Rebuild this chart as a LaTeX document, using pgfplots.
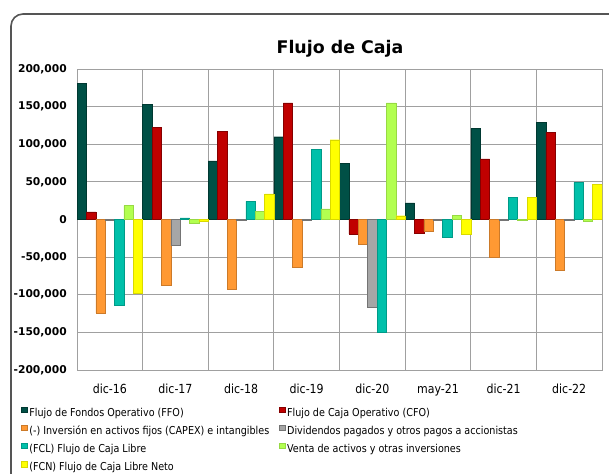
\documentclass[border=0pt]{standalone}
\usepackage{fontspec}
\setmainfont{DejaVu Sans}[FakeStretch=0.88]
\newfontfamily\widefont{DejaVu Sans}
\usepackage{pgfplots}
\pgfplotsset{compat=1.18}
\definecolor{cFFO}{HTML}{005046}
\definecolor{cCFO}{HTML}{C00000}
\definecolor{cCAPEX}{HTML}{FF9933}
\definecolor{cDIV}{HTML}{A6A6A6}
\definecolor{cFCL}{HTML}{00C0AA}
\definecolor{cVEN}{HTML}{B2FF50}
\definecolor{cFCN}{HTML}{FFFF00}
\definecolor{gridc}{HTML}{A0A0A0}
\definecolor{borderc}{HTML}{555555}
\begin{document}
\begin{tikzpicture}[x=1pt,y=1pt]
\useasboundingbox (0,0) rectangle (609,473);
\clip (0,0) rectangle (609,473);
\fill[white] (0,0) rectangle (609,473);
\draw[borderc, line width=1.6pt, rounded corners=12pt] (11,-20) -- (11,459) -- (640,459);
\node[anchor=base, inner sep=0pt] at (340,419.7) {\widefont\bfseries\fontsize{17.4}{20}\selectfont Flujo de Caja};
\begin{axis}[
  at={(77pt,103pt)}, anchor=south west,
  scale only axis, width=525pt, height=301pt,
  xmin=-0.5, xmax=7.5, ymin=-200000, ymax=200000,
  enlargelimits=false,
  scaled y ticks=false,
  ybar=0pt, bar width=9.375pt,
  axis line style={gridc},
  xtick={0,...,7},
  xticklabels={dic-16,dic-17,dic-18,dic-19,dic-20,may-21,dic-21,dic-22},
  minor xtick={-0.5,0.5,...,7.5},
  xminorgrids, ymajorgrids,
  grid style={gridc, line width=0.8pt},
  minor grid style={gridc, line width=0.8pt},
  major tick length=0pt, minor tick length=0pt,
  ytick={-200000,-150000,-100000,-50000,0,50000,100000,150000,200000},
  yticklabels={{-200,000},{-150,000},{-100,000},{-50,000},{0},{50,000},{100,000},{150,000},{200,000}},
  yticklabel style={anchor=east, inner sep=0pt, xshift=-10pt, font=\widefont\bfseries\fontsize{10.7}{12}\selectfont},
  xticklabel style={anchor=base, inner sep=0pt, yshift=-23pt, font=\fontsize{12.5}{14}\selectfont},
  legend columns=2,
  legend cell align=left,
  legend image code/.code={\fill[#1] (0pt,1pt) rectangle (6pt,6.6pt);},
  legend style={draw=none, fill=none, inner sep=0pt, at={(axis description cs:-0.1072,-0.1206)}, anchor=north west,
    font=\fontsize{10.9}{12}\selectfont,
    nodes={inner sep=0pt, text height=8pt, text depth=2.5pt},
    row sep=6.1pt, column sep=2pt,
    /tikz/every even column/.append style={column sep=9.5pt}},
]
\addplot[fill=cFFO, draw=cFFO!70!black, line width=0.4pt] coordinates {(0,181000) (1,153000) (2,78000) (3,110000) (4,75000) (5,22000) (6,121000) (7,129500)};
\addlegendentry{Flujo de Fondos Operativo (FFO)}
\addplot[fill=cCFO, draw=cCFO!70!black, line width=0.4pt] coordinates {(0,10000) (1,122000) (2,117000) (3,155000) (4,-19000) (5,-18000) (6,80500) (7,116000)};
\addlegendentry{Flujo de Caja Operativo (CFO)}
\addplot[fill=cCAPEX, draw=cCAPEX!80!black, line width=0.4pt] coordinates {(0,-124000) (1,-87000) (2,-93000) (3,-64000) (4,-33000) (5,-15500) (6,-50000) (7,-68000)};
\addlegendentry{(-) Inversión en activos fijos (CAPEX) e intangibles}
\addplot[fill=cDIV, draw=cDIV!70!black, line width=0.4pt] coordinates {(0,-800) (1,-34000) (2,-800) (3,-800) (4,-116000) (5,-800) (6,-800) (7,-800)};
\addlegendentry{Dividendos pagados y otros pagos a accionistas}
\addplot[fill=cFCL, draw=cFCL!80!black, line width=0.4pt] coordinates {(0,-114000) (1,2000) (2,24000) (3,93000) (4,-150000) (5,-23500) (6,29500) (7,49500)};
\addlegendentry{(FCL) Flujo de Caja Libre}
\addplot[fill=cVEN, draw=cVEN!85!black, line width=0.4pt] coordinates {(0,18500) (1,-5000) (2,10500) (3,14000) (4,155000) (5,5500) (6,-1000) (7,-2500)};
\addlegendentry{Venta de activos y otras inversiones}
\addplot[fill=cFCN, draw=cFCN!85!black, line width=0.4pt] coordinates {(0,-98500) (1,-2500) (2,34000) (3,106000) (4,5000) (5,-20000) (6,29000) (7,46500)};
\addlegendentry{(FCN) Flujo de Caja Libre Neto}
\end{axis}
\end{tikzpicture}
\end{document}
